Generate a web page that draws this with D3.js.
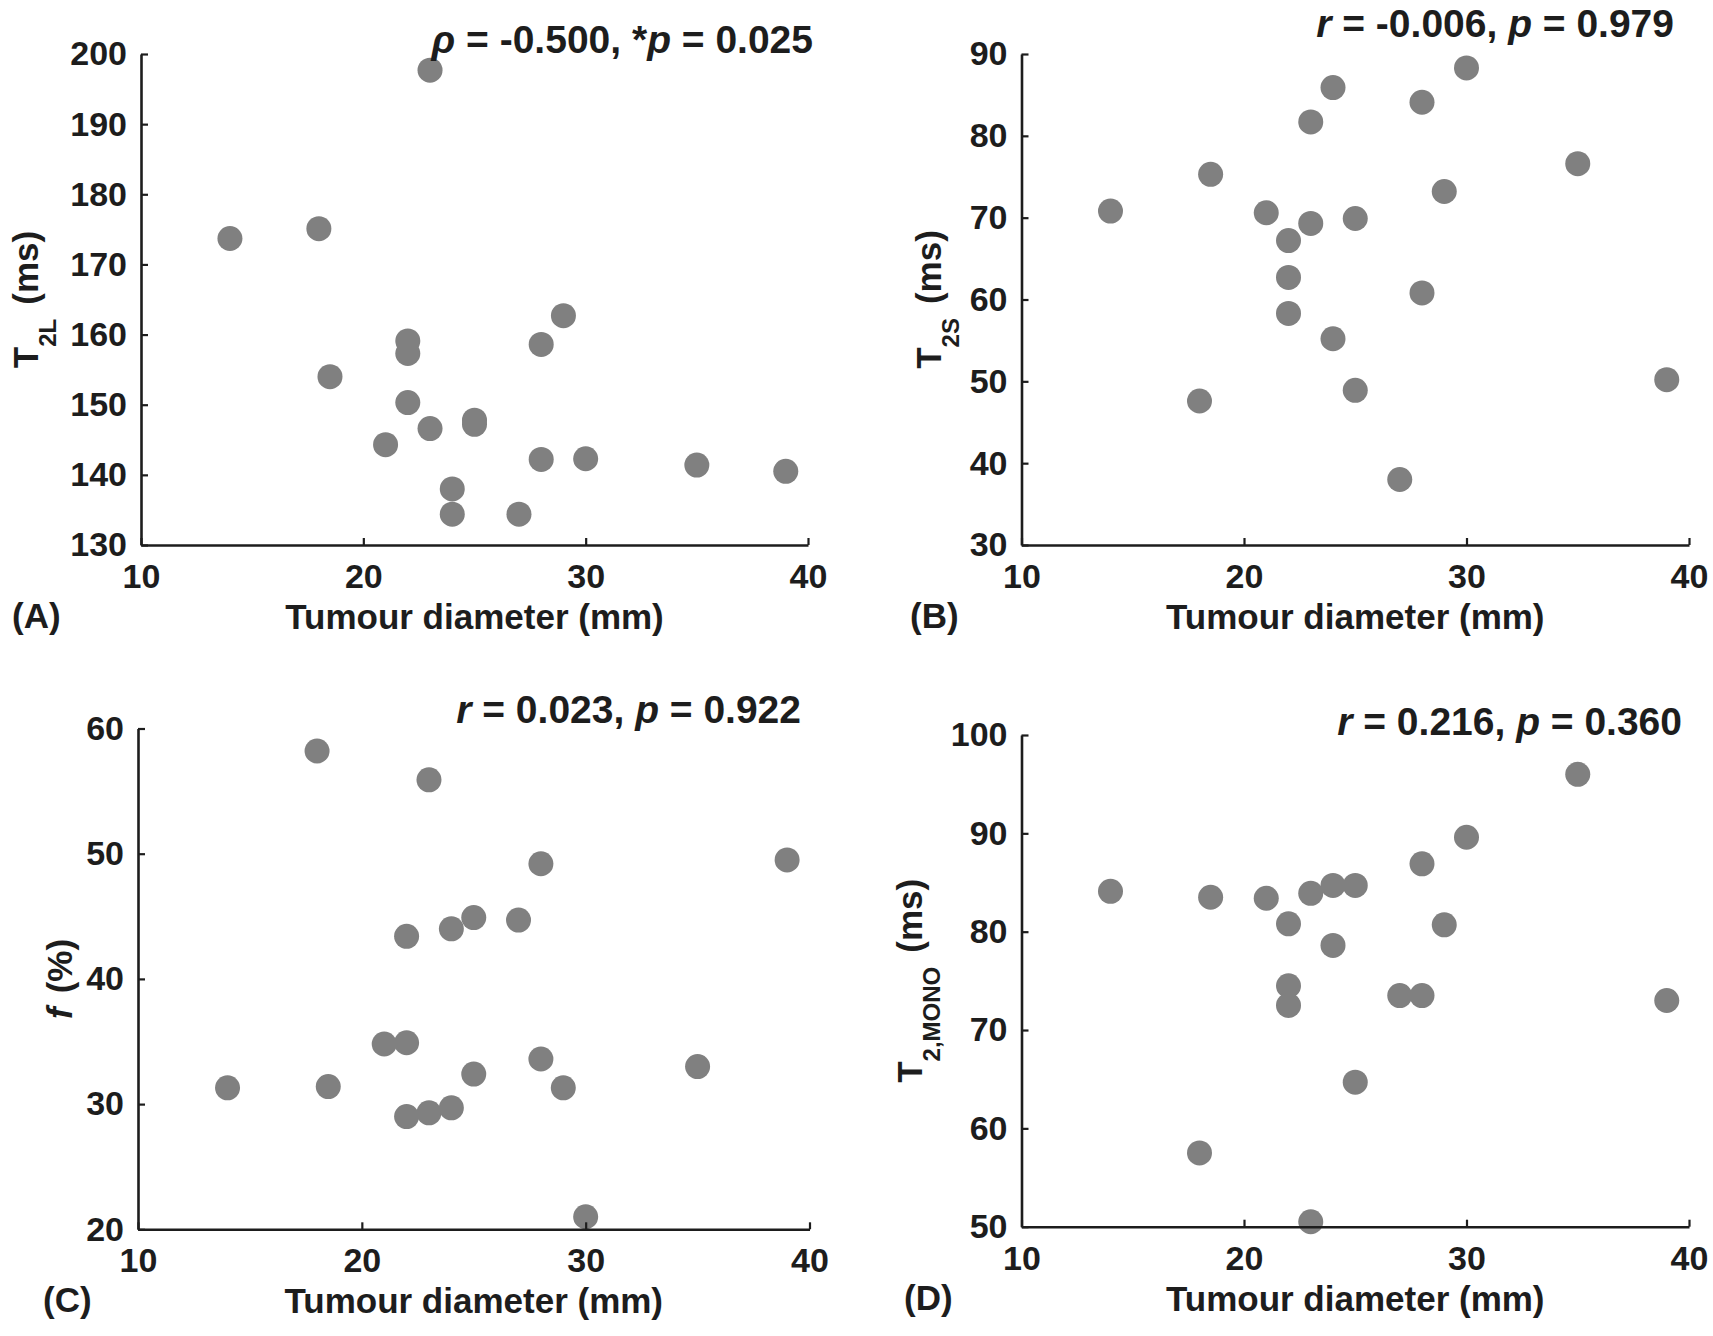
<!DOCTYPE html>
<html>
<head>
<meta charset="utf-8">
<script src="https://cdn.jsdelivr.net/npm/d3@7"></script>
<style>
  body { margin: 0; background: #fff; }
  svg { display: block; font-family: "Liberation Sans", Arial, sans-serif; font-weight: bold; }
</style>
</head>
<body>
<div id="fig"></div>
<script>
// tumour diameter (mm), same patients in every panel
const diameter = [14, 18, 18.5, 21, 22, 22, 22, 23, 23, 24, 24, 25, 25, 27, 28, 28, 29, 30, 35, 39];

const t2L = [173.7, 175.1, 154.0, 144.3, 159.1, 157.3, 150.3, 197.7, 146.6, 138.0, 134.4, 147.8, 147.2, 134.4, 158.6, 142.2, 162.7, 142.3, 141.4, 140.5];
const t2S = [70.8, 47.6, 75.3, 70.6, 67.2, 62.7, 58.3, 81.7, 69.3, 85.9, 55.2, 69.9, 48.9, 38.0, 84.1, 60.8, 73.2, 88.3, 76.6, 50.2];
const fFrac = [31.3, 58.2, 31.4, 34.8, 43.4, 34.9, 29.0, 55.9, 29.3, 44.0, 29.7, 44.9, 32.4, 44.7, 49.2, 33.6, 31.3, 21.0, 33.0, 49.5];
const t2Mono = [84.1, 57.5, 83.5, 83.4, 80.8, 74.5, 72.5, 83.9, 50.5, 84.7, 78.6, 84.7, 64.7, 73.5, 86.9, 73.5, 80.7, 89.6, 96.0, 73.0];

const xTicks = [10, 20, 30, 40];
const yTicksA = [130, 140, 150, 160, 170, 180, 190, 200];
const yTicksB = [30, 40, 50, 60, 70, 80, 90];
const yTicksC = [20, 30, 40, 50, 60];
const yTicksD = [50, 60, 70, 80, 90, 100];

const ink = '#1d1d1d';
const dotColor = '#808080';

const panels = [
    { id: 'A', values: t2L, yTicks: yTicksA, stat: [['ρ', true], [' = -0.500, *', false], ['p', true], [' = 0.025', false]],
      main: 'T', sub: '2L', unit: '(ms)',
      x0: 141, x1: 808, yTop: 54, yBot: 545, statX: 813, statY: 53, labelX: 12, ylabX: 38 },
    { id: 'B', values: t2S, yTicks: yTicksB, stat: [['r', true], [' = -0.006, ', false], ['p', true], [' = 0.979', false]],
      main: 'T', sub: '2S', unit: '(ms)',
      x0: 1021.5, x1: 1689, yTop: 54, yBot: 545, statX: 1674, statY: 37, labelX: 910, ylabX: 941 },
    { id: 'C', values: fFrac, yTicks: yTicksC, stat: [['r', true], [' = 0.023, ', false], ['p', true], [' = 0.922', false]],
      main: 'f', italicMain: true, sub: '', unit: '(%)',
      x0: 138, x1: 809.5, yTop: 728.5, yBot: 1229.3, statX: 801, statY: 723, labelX: 43, ylabX: 72 },
    { id: 'D', values: t2Mono, yTicks: yTicksD, stat: [['r', true], [' = 0.216, ', false], ['p', true], [' = 0.360', false]],
      main: 'T', sub: '2,MONO', unit: '(ms)',
      x0: 1021.5, x1: 1689, yTop: 735, yBot: 1226.7, statX: 1682, statY: 735, labelX: 904, ylabX: 922 }
];

const svg = d3.select('#fig')
    .append('svg')
    .attr('width', 1713)
    .attr('height', 1336);

panels.forEach(p => {
    const xScale = d3.scaleLinear()
        .domain([10, 40])
        .range([p.x0, p.x1]);
    const yScale = d3.scaleLinear()
        .domain(d3.extent(p.yTicks))
        .range([p.yBot, p.yTop]);

    const g = svg.append('g').attr('id', 'panel-' + p.id);

    // points first, axes drawn over them like in the original
    g.append('g')
        .selectAll('circle')
        .data(diameter.map((d, i) => [d, p.values[i]]))
        .join('circle')
        .attr('cx', d => xScale(d[0]))
        .attr('cy', d => yScale(d[1]))
        .attr('r', 12.5)
        .attr('fill', dotColor);

    const xAxis = g.append('g')
        .attr('transform', `translate(0, ${p.yBot})`)
        .call(d3.axisBottom(xScale).tickValues(xTicks).tickSizeInner(-7).tickSizeOuter(0).tickPadding(19));
    const yAxis = g.append('g')
        .attr('transform', `translate(${p.x0}, 0)`)
        .call(d3.axisLeft(yScale).tickValues(p.yTicks).tickSizeInner(-7).tickSizeOuter(0).tickPadding(14));

    [xAxis, yAxis].forEach(ax => {
        ax.select('.domain').attr('stroke', ink).attr('stroke-width', 2.6);
        ax.selectAll('.tick line').attr('stroke', ink).attr('stroke-width', 2.2);
        ax.selectAll('.tick text')
            .attr('fill', ink)
            .style('font-size', '34px')
            .style('font-family', '"Liberation Sans", Arial, sans-serif')
            .style('font-weight', 'bold');
    });

    // x label
    g.append('text')
        .attr('x', (p.x0 + p.x1) / 2)
        .attr('y', p.yBot + 84)
        .attr('text-anchor', 'middle')
        .attr('fill', ink)
        .style('font-size', '35px')
        .text('Tumour diameter (mm)');

    // panel letter
    g.append('text')
        .attr('x', p.labelX)
        .attr('y', p.yBot + 83)
        .attr('fill', ink)
        .style('font-size', '35px')
        .text(`(${p.id})`);

    // y label, rotated, with subscript
    const yl = g.append('text')
        .attr('transform', `translate(${p.ylabX}, ${(p.yTop + p.yBot) / 2}) rotate(-90)`)
        .attr('text-anchor', 'middle')
        .attr('fill', ink)
        .style('font-size', '35px');
    yl.append('tspan')
        .style('font-style', p.italicMain ? 'italic' : 'normal')
        .text(p.main);
    if (p.sub) {
        yl.append('tspan')
            .attr('dy', 18)
            .style('font-size', '24px')
            .text(p.sub);
        yl.append('tspan')
            .attr('dy', -18)
            .attr('dx', 14)
            .text(p.unit);
    } else {
        yl.append('tspan')
            .attr('dx', 14)
            .text(p.unit);
    }

    // correlation stats
    const st = g.append('text')
        .attr('x', p.statX)
        .attr('y', p.statY)
        .attr('text-anchor', 'end')
        .attr('fill', ink)
        .style('font-size', '39px');
    st.selectAll('tspan')
        .data(p.stat)
        .join('tspan')
        .style('font-style', d => d[1] ? 'italic' : 'normal')
        .style('white-space', 'pre')
        .text(d => d[0]);
});
</script>
</body>
</html>
